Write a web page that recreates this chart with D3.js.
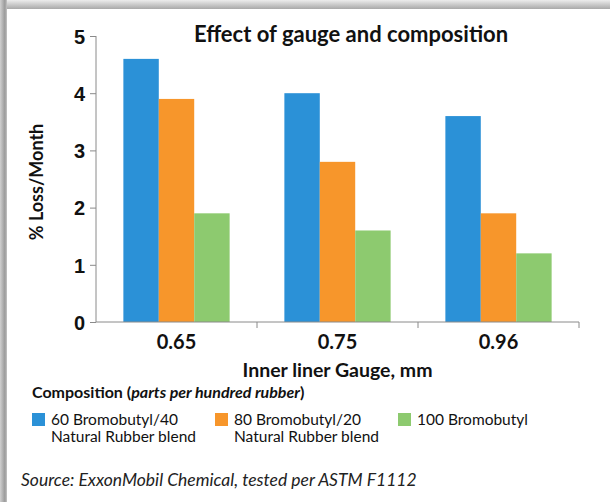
<!DOCTYPE html>
<html>
<head>
  <title>Effect of gauge and composition</title>
  <script src="https://d3js.org/d3.v7.min.js"></script>
  <style type="text/css">
    body { margin: 0; background: #fff; }
    svg { font-family: Lato, "Open Sans", sans-serif; display: block; }
  </style>
</head>
<body>
<div id="chart"></div>
<script type="text/javascript">
  // data
  var gauges = ["0.65", "0.75", "0.96"];
  var series = ["60 Bromobutyl/40 Natural Rubber blend", "80 Bromobutyl/20 Natural Rubber blend", "100 Bromobutyl"];
  var blend60 = [4.6, 4.0, 3.6];
  var blend80 = [3.9, 2.8, 1.9];
  var bromo100 = [1.9, 1.6, 1.2];
  var yTicks = [0, 1, 2, 3, 4, 5];
  var legendLines = [["60 Bromobutyl/40", "Natural Rubber blend"], ["80 Bromobutyl/20", "Natural Rubber blend"], ["100 Bromobutyl"]];
  var colors = ["#2b91d7", "#f7962b", "#8dca6f"];

  var values = [blend60, blend80, bromo100];
  var width = 610, height = 502;

  var svg = d3.select("#chart").append("svg")
    .attr("width", width)
    .attr("height", height);

  // frame shadow
  var defs = svg.append("defs");
  var gTop = defs.append("linearGradient").attr("id", "topShade").attr("x1", 0).attr("y1", 0).attr("x2", 0).attr("y2", 1);
  gTop.append("stop").attr("offset", "0%").attr("stop-color", "#ececec");
  gTop.append("stop").attr("offset", "100%").attr("stop-color", "#a9a9a9");
  var gLeft = defs.append("linearGradient").attr("id", "leftShade").attr("x1", 0).attr("y1", 0).attr("x2", 1).attr("y2", 0);
  gLeft.append("stop").attr("offset", "0%").attr("stop-color", "#d0d0d0");
  gLeft.append("stop").attr("offset", "70%").attr("stop-color", "#9a9a9a");
  gLeft.append("stop").attr("offset", "100%").attr("stop-color", "#c4c4c4");

  svg.append("rect").attr("width", width).attr("height", height).attr("fill", "#fff");
  svg.append("rect").attr("x", 0).attr("y", 0).attr("width", width).attr("height", 9).attr("fill", "url(#topShade)");
  svg.append("rect").attr("x", 0).attr("y", 0).attr("width", 7).attr("height", height).attr("fill", "url(#leftShade)");

  var x0 = 96, x1 = 579, yBase = 322, yTop = 36;

  var x = d3.scaleBand()
    .domain(gauges)
    .range([x0, x1])
    .paddingInner(0.34)
    .paddingOuter(0.17);

  var xs = d3.scaleBand()
    .domain(d3.range(series.length))
    .range([0, x.bandwidth()]);

  var y = d3.scaleLinear()
    .domain([0, 5])
    .range([yBase, yTop]);

  // bars
  var groups = svg.selectAll(".grp")
    .data(gauges)
    .enter().append("g")
    .attr("class", "grp")
    .attr("transform", function (d) { return "translate(" + x(d) + ",0)"; });

  groups.selectAll("rect")
    .data(function (d, i) { return values.map(function (s, j) { return { s: j, v: s[i] }; }); })
    .enter().append("rect")
    .attr("x", function (d) { return xs(d.s); })
    .attr("width", xs.bandwidth())
    .attr("y", function (d) { return y(d.v); })
    .attr("height", function (d) { return yBase - y(d.v); })
    .attr("fill", function (d) { return colors[d.s]; });

  // y axis
  var yAxis = svg.append("g")
    .attr("transform", "translate(" + x0 + ",0)")
    .call(d3.axisLeft(y).tickValues(yTicks).tickSize(6).tickPadding(5).tickFormat(d3.format("d")));
  yAxis.select(".domain").attr("stroke", "#8a8a8a").attr("d", "M0," + yTop + "V" + yBase);
  yAxis.selectAll(".tick line").attr("stroke", "#8a8a8a");
  yAxis.selectAll(".tick text")
    .attr("fill", "#111")
    .style("font-size", "20px")
    .style("font-weight", "bold")
    .attr("dy", "0.36em");

  // x axis: ticks at group boundaries
  var step = x.step();
  var xAxis = svg.append("g").attr("transform", "translate(0," + yBase + ")");
  xAxis.append("path")
    .attr("d", "M" + x0 + ",0H" + x1)
    .attr("stroke", "#8a8a8a")
    .attr("fill", "none");
  xAxis.selectAll("line.sep")
    .data(gauges)
    .enter().append("line")
    .attr("class", "sep")
    .attr("x1", function (d) { return x(d) + x.bandwidth() / 2 + step / 2; })
    .attr("x2", function (d) { return x(d) + x.bandwidth() / 2 + step / 2; })
    .attr("y1", 0).attr("y2", 6)
    .attr("stroke", "#8a8a8a");
  xAxis.selectAll("text")
    .data(gauges)
    .enter().append("text")
    .attr("x", function (d) { return x(d) + x.bandwidth() / 2; })
    .attr("y", 27)
    .attr("text-anchor", "middle")
    .attr("fill", "#111")
    .style("font-size", "20px")
    .style("font-weight", "bold")
    .text(function (d) { return d; });

  // titles
  svg.append("text")
    .attr("x", 351).attr("y", 42)
    .attr("text-anchor", "middle")
    .attr("fill", "#111")
    .style("font-size", "22px")
    .style("font-weight", "bold")
    .text("Effect of gauge and composition");

  svg.append("text")
    .attr("transform", "translate(43,182) rotate(-90)")
    .attr("text-anchor", "middle")
    .attr("fill", "#111")
    .style("font-size", "18px")
    .style("font-weight", "bold")
    .text("% Loss/Month");

  svg.append("text")
    .attr("x", (x0 + x1) / 2).attr("y", 377)
    .attr("text-anchor", "middle")
    .attr("fill", "#111")
    .style("font-size", "19.5px")
    .style("font-weight", "bold")
    .text("Inner liner Gauge, mm");

  // legend
  var legTitle = svg.append("text")
    .attr("x", 32).attr("y", 398)
    .attr("fill", "#111")
    .style("font-size", "16px")
    .style("font-weight", "bold");
  legTitle.append("tspan").text("Composition (");
  legTitle.append("tspan").style("font-style", "italic").text("parts per hundred rubber");
  legTitle.append("tspan").text(")");

  var legX = [32, 215, 398];
  var leg = svg.selectAll(".leg")
    .data(series)
    .enter().append("g")
    .attr("class", "leg")
    .attr("transform", function (d, i) { return "translate(" + legX[i] + ",413)"; });
  leg.append("rect")
    .attr("width", 13).attr("height", 13)
    .attr("fill", function (d, i) { return colors[i]; });
  leg.append("text")
    .attr("fill", "#111")
    .style("font-size", "15.5px")
    .selectAll("tspan")
    .data(function (d, i) { return legendLines[i]; })
    .enter().append("tspan")
    .attr("x", 19)
    .attr("y", function (d, k) { return 12 + k * 17; })
    .text(function (d) { return d; });

  // source
  svg.append("text")
    .attr("x", 21).attr("y", 486)
    .attr("fill", "#222")
    .style("font-size", "17.5px")
    .style("font-style", "italic")
    .text("Source: ExxonMobil Chemical, tested per ASTM F1112");
</script>
</body>
</html>
